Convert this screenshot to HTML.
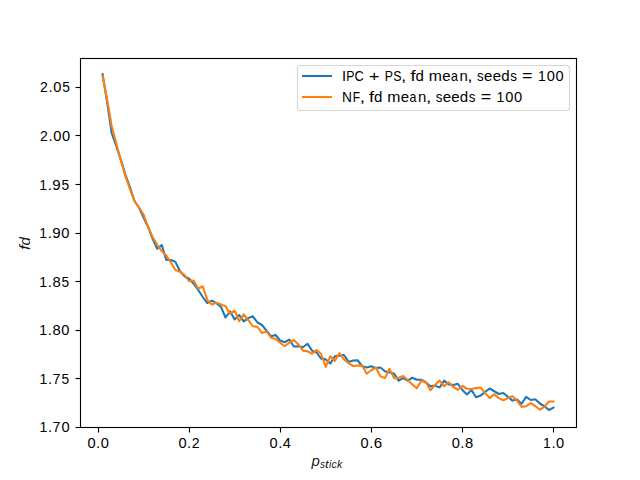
<!DOCTYPE html>
<html><head><meta charset="utf-8"><style>
html,body{margin:0;padding:0;background:#fff;width:640px;height:480px;overflow:hidden}
svg{display:block}
.t{font-family:"Liberation Sans",sans-serif;font-size:14.72px;fill:#000}
.m{font-family:"Liberation Sans",sans-serif;font-style:italic;fill:#000;fill-opacity:0.93}
</style></head><body>
<svg width="640" height="480" viewBox="0 0 640 480">
<rect x="0" y="0" width="640" height="480" fill="#fff"/>
<polyline points="102.55,74.20 107.11,102.00 111.66,133.00 116.22,146.00 120.77,159.50 125.33,174.50 129.88,187.00 134.44,201.00 138.99,207.50 143.55,217.50 148.10,227.00 152.66,238.75 157.21,248.75 161.76,245.00 166.32,260.00 170.87,260.00 175.43,261.90 179.98,271.25 184.54,276.25 189.09,278.75 193.65,283.75 198.20,290.00 202.76,297.00 207.31,303.10 211.87,300.60 216.42,303.10 220.97,306.90 225.53,317.50 230.08,311.25 234.64,319.40 239.19,315.00 243.75,321.30 248.30,318.10 252.86,316.30 257.41,322.50 261.97,325.00 266.52,330.60 271.07,336.25 275.63,335.00 280.18,340.60 284.74,342.25 289.29,339.60 293.85,346.50 298.40,346.25 302.96,347.25 307.51,343.75 312.07,350.60 316.62,352.50 321.18,358.75 325.73,359.40 330.28,363.50 334.84,356.25 339.39,355.60 343.95,355.00 348.50,361.90 353.06,360.60 357.61,360.25 362.17,366.25 366.72,367.50 371.28,366.25 375.83,368.10 380.39,367.50 384.94,371.25 389.49,372.50 394.05,373.50 398.60,380.60 403.16,378.10 407.71,380.60 412.27,377.75 416.82,379.75 421.38,379.75 425.93,382.50 430.49,386.25 435.04,385.60 439.59,387.50 444.15,380.60 448.70,384.40 453.26,385.00 457.81,383.75 462.37,390.00 466.92,394.40 471.48,390.00 476.03,397.25 480.59,395.60 485.14,391.90 489.70,388.50 494.25,391.25 498.80,394.00 503.36,393.00 507.91,396.90 512.47,400.60 517.02,399.40 521.58,403.75 526.13,396.90 530.69,400.00 535.24,399.20 539.80,403.50 544.35,406.25 548.91,410.00 553.46,407.60" fill="none" stroke="#1f77b4" stroke-width="2.08" stroke-linejoin="round" stroke-linecap="square"/>
<polyline points="102.55,75.80 107.11,99.30 111.66,126.00 116.22,143.00 120.77,160.50 125.33,176.00 129.88,189.00 134.44,201.00 138.99,207.50 143.55,214.60 148.10,227.00 152.66,236.90 157.21,245.00 161.76,251.25 166.32,255.60 170.87,262.50 175.43,270.00 179.98,271.90 184.54,275.00 189.09,281.25 193.65,280.60 198.20,288.75 202.76,286.25 207.31,300.00 211.87,304.40 216.42,302.75 220.97,304.40 225.53,306.25 230.08,313.75 234.64,310.60 239.19,321.25 243.75,314.40 248.30,320.00 252.86,326.25 257.41,326.90 261.97,333.10 266.52,331.50 271.07,337.75 275.63,339.00 280.18,342.75 284.74,346.25 289.29,342.75 293.85,340.00 298.40,344.40 302.96,350.60 307.51,351.25 312.07,353.75 316.62,350.00 321.18,354.00 325.73,366.90 330.28,356.25 334.84,361.00 339.39,353.10 343.95,359.40 348.50,363.10 353.06,366.00 357.61,365.60 362.17,365.60 366.72,373.75 371.28,370.25 375.83,367.50 380.39,376.25 384.94,378.10 389.49,368.75 394.05,378.10 398.60,377.75 403.16,376.00 407.71,380.00 412.27,384.40 416.82,388.30 421.38,380.60 425.93,382.25 430.49,390.20 435.04,385.00 439.59,380.60 444.15,386.25 448.70,382.25 453.26,386.90 457.81,389.75 462.37,386.00 466.92,388.75 471.48,389.00 476.03,388.10 480.59,387.50 485.14,393.10 489.70,398.10 494.25,394.40 498.80,398.10 503.36,400.30 507.91,398.10 512.47,396.25 517.02,400.60 521.58,406.90 526.13,406.25 530.69,403.10 535.24,406.00 539.80,409.75 544.35,406.90 548.91,401.50 553.46,401.50" fill="none" stroke="#ff7f0e" stroke-width="2.08" stroke-linejoin="round" stroke-linecap="square"/>
<rect x="80.5" y="58.5" width="496" height="369" fill="none" stroke="#000" stroke-width="1.11"/>
<line x1="75.5" y1="427.5" x2="80.5" y2="427.5" stroke="#000" stroke-width="1.11"/>
<text class="t" transform="translate(39.44,432.00) scale(0.950,1)">1</text>
<text class="t" transform="translate(47.92,432.00) scale(1.021,1)">.</text>
<text class="t" transform="translate(52.62,432.00) scale(0.973,1)">7</text>
<text class="t" transform="translate(61.39,432.00) scale(0.995,1)">0</text>
<line x1="75.5" y1="378.5" x2="80.5" y2="378.5" stroke="#000" stroke-width="1.11"/>
<text class="t" transform="translate(39.44,384.00) scale(0.950,1)">1</text>
<text class="t" transform="translate(47.92,384.00) scale(1.021,1)">.</text>
<text class="t" transform="translate(52.62,384.00) scale(0.973,1)">7</text>
<text class="t" transform="translate(61.56,384.00) scale(0.939,1)">5</text>
<line x1="75.5" y1="330.5" x2="80.5" y2="330.5" stroke="#000" stroke-width="1.11"/>
<text class="t" transform="translate(39.31,335.00) scale(0.950,1)">1</text>
<text class="t" transform="translate(47.79,335.00) scale(1.021,1)">.</text>
<text class="t" transform="translate(52.39,335.00) scale(1.005,1)">8</text>
<text class="t" transform="translate(61.26,335.00) scale(0.995,1)">0</text>
<line x1="75.5" y1="281.5" x2="80.5" y2="281.5" stroke="#000" stroke-width="1.11"/>
<text class="t" transform="translate(39.31,287.00) scale(0.950,1)">1</text>
<text class="t" transform="translate(47.79,287.00) scale(1.021,1)">.</text>
<text class="t" transform="translate(52.39,287.00) scale(1.005,1)">8</text>
<text class="t" transform="translate(61.44,287.00) scale(0.939,1)">5</text>
<line x1="75.5" y1="233.5" x2="80.5" y2="233.5" stroke="#000" stroke-width="1.11"/>
<text class="t" transform="translate(39.31,238.00) scale(0.950,1)">1</text>
<text class="t" transform="translate(47.79,238.00) scale(1.021,1)">.</text>
<text class="t" transform="translate(52.26,238.00) scale(1.027,1)">9</text>
<text class="t" transform="translate(61.26,238.00) scale(0.995,1)">0</text>
<line x1="75.5" y1="184.5" x2="80.5" y2="184.5" stroke="#000" stroke-width="1.11"/>
<text class="t" transform="translate(39.31,190.00) scale(0.950,1)">1</text>
<text class="t" transform="translate(47.79,190.00) scale(1.021,1)">.</text>
<text class="t" transform="translate(52.26,190.00) scale(1.027,1)">9</text>
<text class="t" transform="translate(61.44,190.00) scale(0.939,1)">5</text>
<line x1="75.5" y1="135.5" x2="80.5" y2="135.5" stroke="#000" stroke-width="1.11"/>
<text class="t" transform="translate(39.96,141.00) scale(0.959,1)">2</text>
<text class="t" transform="translate(48.59,141.00) scale(1.021,1)">.</text>
<text class="t" transform="translate(53.23,141.00) scale(0.995,1)">0</text>
<text class="t" transform="translate(62.06,141.00) scale(0.995,1)">0</text>
<line x1="75.5" y1="87.5" x2="80.5" y2="87.5" stroke="#000" stroke-width="1.11"/>
<text class="t" transform="translate(39.96,92.00) scale(0.959,1)">2</text>
<text class="t" transform="translate(48.59,92.00) scale(1.021,1)">.</text>
<text class="t" transform="translate(53.23,92.00) scale(0.995,1)">0</text>
<text class="t" transform="translate(62.24,92.00) scale(0.939,1)">5</text>
<line x1="98.5" y1="427.5" x2="98.5" y2="432.5" stroke="#000" stroke-width="1.11"/>
<text class="t" transform="translate(87.40,448.00) scale(0.995,1)">0</text>
<text class="t" transform="translate(95.99,448.00) scale(1.021,1)">.</text>
<text class="t" transform="translate(100.63,448.00) scale(0.995,1)">0</text>
<line x1="189.5" y1="427.5" x2="189.5" y2="432.5" stroke="#000" stroke-width="1.11"/>
<text class="t" transform="translate(178.49,448.00) scale(0.995,1)">0</text>
<text class="t" transform="translate(187.09,448.00) scale(1.021,1)">.</text>
<text class="t" transform="translate(191.69,448.00) scale(0.959,1)">2</text>
<line x1="280.5" y1="427.5" x2="280.5" y2="432.5" stroke="#000" stroke-width="1.11"/>
<text class="t" transform="translate(269.58,448.00) scale(0.995,1)">0</text>
<text class="t" transform="translate(278.18,448.00) scale(1.021,1)">.</text>
<text class="t" transform="translate(282.82,448.00) scale(0.995,1)">4</text>
<line x1="371.5" y1="427.5" x2="371.5" y2="432.5" stroke="#000" stroke-width="1.11"/>
<text class="t" transform="translate(360.61,448.00) scale(0.995,1)">0</text>
<text class="t" transform="translate(369.21,448.00) scale(1.021,1)">.</text>
<text class="t" transform="translate(373.70,448.00) scale(1.029,1)">6</text>
<line x1="462.5" y1="427.5" x2="462.5" y2="432.5" stroke="#000" stroke-width="1.11"/>
<text class="t" transform="translate(451.70,448.00) scale(0.995,1)">0</text>
<text class="t" transform="translate(460.30,448.00) scale(1.021,1)">.</text>
<text class="t" transform="translate(464.90,448.00) scale(1.005,1)">8</text>
<line x1="553.5" y1="427.5" x2="553.5" y2="432.5" stroke="#000" stroke-width="1.11"/>
<text class="t" transform="translate(542.91,448.00) scale(0.950,1)">1</text>
<text class="t" transform="translate(551.39,448.00) scale(1.021,1)">.</text>
<text class="t" transform="translate(556.03,448.00) scale(0.995,1)">0</text>
<rect x="297.5" y="65.5" width="272" height="45" rx="2.8" ry="2.8" fill="#fff" fill-opacity="0.8" stroke="#cccccc" stroke-opacity="0.8" stroke-width="1.11"/>
<line x1="303" y1="76" x2="331" y2="76" stroke="#1f77b4" stroke-width="2.08" stroke-linecap="square"/>
<line x1="303" y1="97" x2="331" y2="97" stroke="#ff7f0e" stroke-width="2.08" stroke-linecap="square"/>
<text class="t" transform="translate(341.88,81.10) scale(0.998,1)">I</text>
<text class="t" transform="translate(346.32,81.10) scale(0.834,1)">P</text>
<text class="t" transform="translate(354.46,81.10) scale(0.876,1)">C</text>
<text class="t" transform="translate(369.03,81.10) scale(1.216,1)">+</text>
<text class="t" transform="translate(384.82,81.10) scale(0.834,1)">P</text>
<text class="t" transform="translate(393.19,81.10) scale(0.841,1)">S</text>
<text class="t" transform="translate(401.05,81.10) scale(1.300,1)">,</text>
<text class="t" transform="translate(410.52,81.10) scale(1.239,1)">f</text>
<text class="t" transform="translate(415.48,81.10) scale(1.025,1)">d</text>
<text class="t" transform="translate(428.78,81.10) scale(1.075,1)">m</text>
<text class="t" transform="translate(442.21,81.10) scale(1.019,1)">e</text>
<text class="t" transform="translate(450.92,81.10) scale(0.848,1)">a</text>
<text class="t" transform="translate(459.39,81.10) scale(1.017,1)">n</text>
<text class="t" transform="translate(467.32,81.10) scale(1.300,1)">,</text>
<text class="t" transform="translate(477.12,81.10) scale(0.904,1)">s</text>
<text class="t" transform="translate(484.09,81.10) scale(1.019,1)">e</text>
<text class="t" transform="translate(492.63,81.10) scale(1.019,1)">e</text>
<text class="t" transform="translate(501.17,81.10) scale(1.025,1)">d</text>
<text class="t" transform="translate(510.23,81.10) scale(0.904,1)">s</text>
<text class="t" transform="translate(522.08,81.10) scale(1.216,1)">=</text>
<text class="t" transform="translate(537.98,81.10) scale(0.950,1)">1</text>
<text class="t" transform="translate(546.69,81.10) scale(0.995,1)">0</text>
<text class="t" transform="translate(555.52,81.10) scale(0.995,1)">0</text>
<text class="t" transform="translate(342.11,102.04) scale(0.932,1)">N</text>
<text class="t" transform="translate(352.64,102.04) scale(0.809,1)">F</text>
<text class="t" transform="translate(359.64,102.04) scale(1.300,1)">,</text>
<text class="t" transform="translate(369.12,102.04) scale(1.239,1)">f</text>
<text class="t" transform="translate(374.07,102.04) scale(1.025,1)">d</text>
<text class="t" transform="translate(387.37,102.04) scale(1.075,1)">m</text>
<text class="t" transform="translate(400.80,102.04) scale(1.019,1)">e</text>
<text class="t" transform="translate(409.51,102.04) scale(0.848,1)">a</text>
<text class="t" transform="translate(417.98,102.04) scale(1.017,1)">n</text>
<text class="t" transform="translate(425.91,102.04) scale(1.300,1)">,</text>
<text class="t" transform="translate(435.71,102.04) scale(0.904,1)">s</text>
<text class="t" transform="translate(442.69,102.04) scale(1.019,1)">e</text>
<text class="t" transform="translate(451.22,102.04) scale(1.019,1)">e</text>
<text class="t" transform="translate(459.76,102.04) scale(1.025,1)">d</text>
<text class="t" transform="translate(468.82,102.04) scale(0.904,1)">s</text>
<text class="t" transform="translate(480.67,102.04) scale(1.216,1)">=</text>
<text class="t" transform="translate(496.57,102.04) scale(0.950,1)">1</text>
<text class="t" transform="translate(505.28,102.04) scale(0.995,1)">0</text>
<text class="t" transform="translate(514.11,102.04) scale(0.995,1)">0</text>
<text class="m" transform="translate(311.42,465.94) scale(1.033,1)" style="font-size:14.50px">p</text>
<text class="m" transform="translate(319.98,468.24) scale(0.981,1)" style="font-size:10.15px">s</text>
<text class="m" transform="translate(324.99,468.24) scale(1.287,1)" style="font-size:10.15px">t</text>
<text class="m" transform="translate(328.94,468.24) scale(0.997,1)" style="font-size:10.15px">i</text>
<text class="m" transform="translate(331.57,468.24) scale(1.030,1)" style="font-size:10.15px">c</text>
<text class="m" transform="translate(336.97,468.24) scale(1.051,1)" style="font-size:10.15px">k</text>
<g transform="translate(30.0,250.4) rotate(-90)">
<text class="m" transform="translate(0.36,-0.36) scale(1.188,1)" style="font-size:14.50px">f</text>
<text class="m" transform="translate(5.02,-0.36) scale(1.035,1)" style="font-size:14.50px">d</text>
</g>
</svg>
</body></html>
